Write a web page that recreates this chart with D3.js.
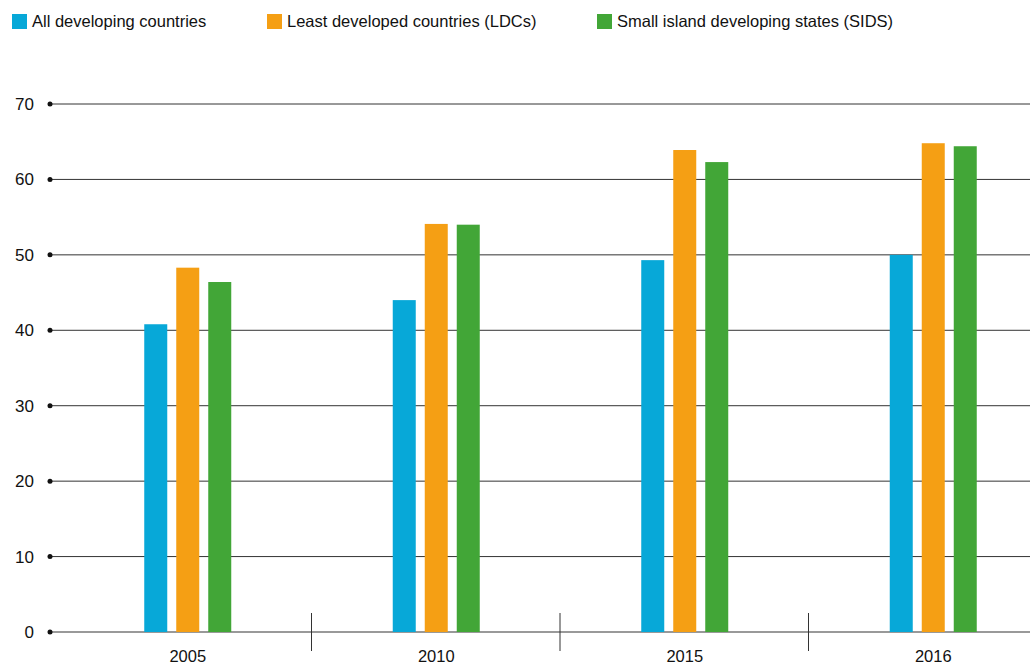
<!DOCTYPE html>
<html>
<head>
<meta charset="utf-8">
<script src="https://cdn.jsdelivr.net/npm/d3@7"></script>
<style>
  body { margin: 0; background: #fff; }
  svg { display: block; font-family: "Liberation Sans", Arial, sans-serif; }
</style>
</head>
<body>
<svg id="canvas" width="1030" height="664"></svg>
<script>
// data
let years = ['2005', '2010', '2015', '2016'];
let seriesNames = ['All developing countries', 'Least developed countries (LDCs)', 'Small island developing states (SIDS)'];
let seriesColors = ['#07a8d8', '#f59f14', '#42a637'];
let allDeveloping = [40.8, 44.0, 49.3, 50.0];
let ldcs = [48.3, 54.1, 63.9, 64.8];
let sids = [46.4, 54.0, 62.3, 64.4];
let yTicks = [0, 10, 20, 30, 40, 50, 60, 70];

let series = [allDeveloping, ldcs, sids];

let canvas = d3.select('#canvas');

let y = d3.scaleLinear().domain([0, 70]).range([632, 104]);
let x = d3.scaleBand().domain(years).range([63.5, 1057.5]);
let xInner = d3.scaleBand().domain(d3.range(3)).range([-48, 48]).paddingInner(9 / 32).paddingOuter(4.5 / 32);

// grid lines with dots on the left
canvas.append('g')
    .selectAll('line')
    .data(yTicks)
    .enter()
    .append('line')
    .attr('x1', 50)
    .attr('x2', 1030)
    .attr('y1', d => y(d))
    .attr('y2', d => y(d))
    .attr('stroke', d => d === 0 ? '#777' : '#333')
    .attr('stroke-width', d => d === 0 ? 1.5 : 1);

canvas.append('g')
    .selectAll('circle')
    .data(yTicks)
    .enter()
    .append('circle')
    .attr('cx', 50)
    .attr('cy', d => y(d))
    .attr('r', 2.5)
    .attr('fill', '#111');

canvas.append('g')
    .selectAll('text')
    .data(yTicks)
    .enter()
    .append('text')
    .attr('x', 34)
    .attr('y', d => y(d) + 6)
    .attr('text-anchor', 'end')
    .style('font-size', '17px')
    .attr('fill', '#111')
    .text(d => d);

// bars
let groups = canvas.selectAll('g.year')
    .data(years)
    .enter()
    .append('g')
    .classed('year', true)
    .attr('transform', d => `translate(${x(d) + x.bandwidth() / 2},0)`);

groups.selectAll('rect')
    .data((d, i) => series.map((s, k) => ({k: k, v: s[i]})))
    .enter()
    .append('rect')
    .attr('x', d => xInner(d.k))
    .attr('width', xInner.bandwidth())
    .attr('y', d => y(d.v))
    .attr('height', d => y(0) - y(d.v))
    .attr('fill', d => seriesColors[d.k]);

// separators between the years
canvas.append('g')
    .selectAll('line')
    .data(years.slice(1))
    .enter()
    .append('line')
    .attr('x1', d => x(d) - 0.5)
    .attr('x2', d => x(d) - 0.5)
    .attr('y1', 613)
    .attr('y2', 651)
    .attr('stroke', '#333')
    .attr('stroke-width', 1);

groups.append('text')
    .attr('x', 0)
    .attr('y', 662)
    .attr('text-anchor', 'middle')
    .style('font-size', '16.5px')
    .attr('fill', '#111')
    .text(d => d);

// legend
let legendX = [12, 267, 597];
let legend = canvas.selectAll('g.legend')
    .data(seriesNames)
    .enter()
    .append('g')
    .classed('legend', true)
    .attr('transform', (d, i) => `translate(${legendX[i]},14)`);

legend.append('rect')
    .attr('width', 15)
    .attr('height', 15)
    .attr('fill', (d, i) => seriesColors[i]);

legend.append('text')
    .attr('x', 20)
    .attr('y', 13)
    .style('font-size', '16.5px')
    .attr('fill', '#111')
    .text(d => d);
</script>
</body>
</html>
